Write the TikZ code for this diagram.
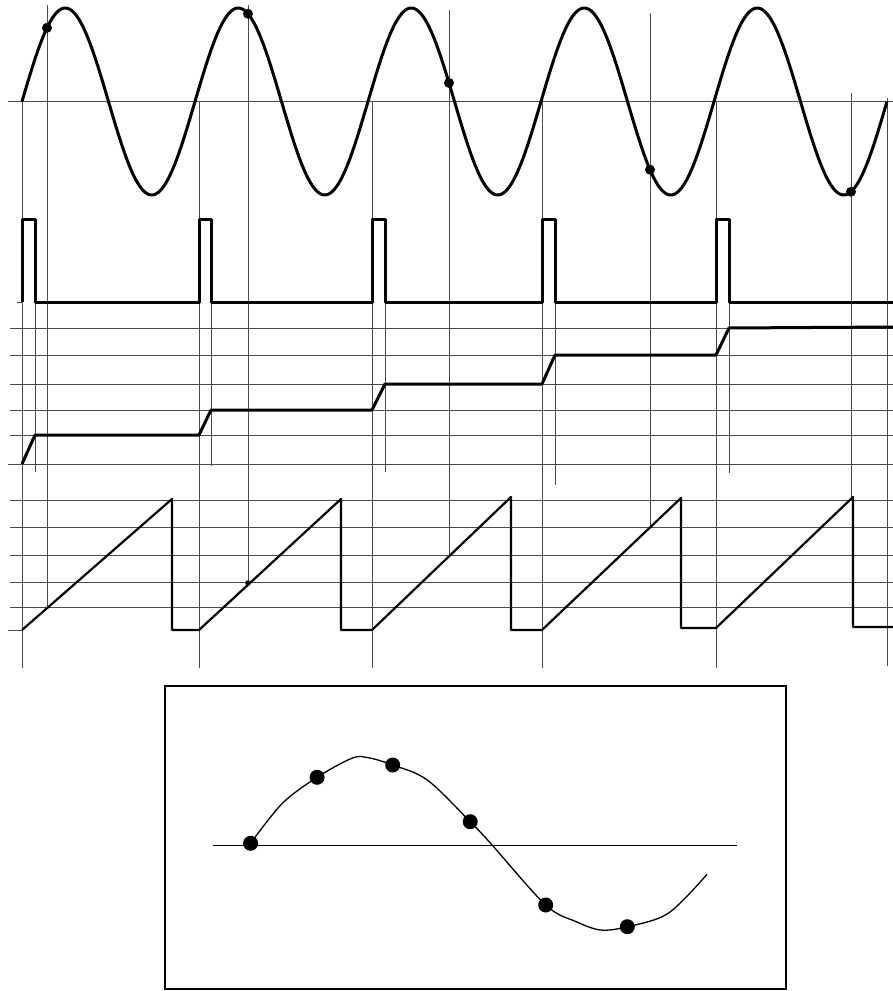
\documentclass[tikz,border=0pt]{standalone}
\begin{document}
\begin{tikzpicture}[x=1pt,y=-1pt,
  gline/.style={line width=0.8pt,black!70},
  sigline/.style={line width=3pt,black,line join=round},
  sawline/.style={line width=2.2pt,black,line join=round},
  sampdot/.style={fill=black},
  boxline/.style={line width=1.6pt,black}]
\useasboundingbox (0,0) rectangle (893,991);
% ---- horizontal grid lines
\draw[gline] (8,101) -- (893,101);
\draw[gline] (17,302) -- (22,302);
\foreach \yy in {328,355,384,410,435} \draw[gline] (10,\yy) -- (893,\yy);
\draw[gline] (8,464) -- (893,464);
\foreach \yy in {500,527,555,582,607} \draw[gline] (10,\yy) -- (893,\yy);
\draw[gline] (8,630) -- (22,630);
% ---- vertical grid lines
\foreach \xx in {22,199,372,542,716} \draw[gline] (\xx,101) -- (\xx,668);
\draw[gline] (887,98) -- (887,666);
\foreach \xx/\ye in {35/472,211/466,385/472,555/485,729/473} \draw[gline] (\xx,219) -- (\xx,\ye);
\foreach \xx/\ys/\ye in {47/5/607,248/5/583,449/10/555,650/13/527,851/93/500}
  \draw[gline] (\xx,\ys) -- (\xx,\ye);
% ---- sine wave
\draw[sigline,domain=22:887,samples=400,smooth] plot (\x,{101.5-93.5*sin((\x-22)*2.080925)});
\foreach \xx in {47,248,449,650,851}
  \fill[sampdot] (\xx,{101.5-93.5*sin((\xx-22)*2.080925)}) circle (5pt);
% ---- pulse train
\draw[sigline] (22,302) -- (22,219) -- (35,219) -- (35,302) -- (199,302) -- (199,219) -- (211,219) -- (211,302)
  -- (372,302) -- (372,219) -- (385,219) -- (385,302) -- (542,302) -- (542,219) -- (555,219) -- (555,302)
  -- (716,302) -- (716,219) -- (729,219) -- (729,302) -- (893,302);
% ---- staircase
\draw[sigline] (22,464) -- (35,435) -- (199,435) -- (211,410) -- (372,410) -- (385,384) -- (542,384)
  -- (555,355) -- (716,355) -- (729,328) -- (893,327);
% ---- sawtooth
\draw[sawline] (22,630) -- (172,499) -- (172,630) -- (199,630) -- (341,499) -- (341,630) -- (372,630)
  -- (511,497) -- (511,630) -- (542,630) -- (681,498) -- (681,628) -- (716,628) -- (853,497) -- (853,627) -- (893,627);
\fill (248,583) circle (2.8pt);
% ---- reconstructed (aliased) signal
\draw[boxline] (165,686) rectangle (786,989);
\draw[line width=0.9pt] (213,845) -- (737,845);
\draw[line width=1.3pt] plot[smooth,tension=0.55] coordinates {(250.6,843.3) (282.4,803.3) (317.1,777.3) (351.8,758.3)
  (368.2,757.7) (392.7,765) (427.3,780) (470.2,821.7) (490.6,843.3) (545.7,905) (576.3,921.7) (600.8,930)
  (627.3,926.7) (668.2,913.3) (707,874.3)};
\foreach \px/\py in {250.6/843.3,317.1/777.3,392.7/765,470.2/821.7,545.7/905,627.3/926.7}
  \fill (\px,\py) circle (7.5pt);
\end{tikzpicture}
\end{document}
